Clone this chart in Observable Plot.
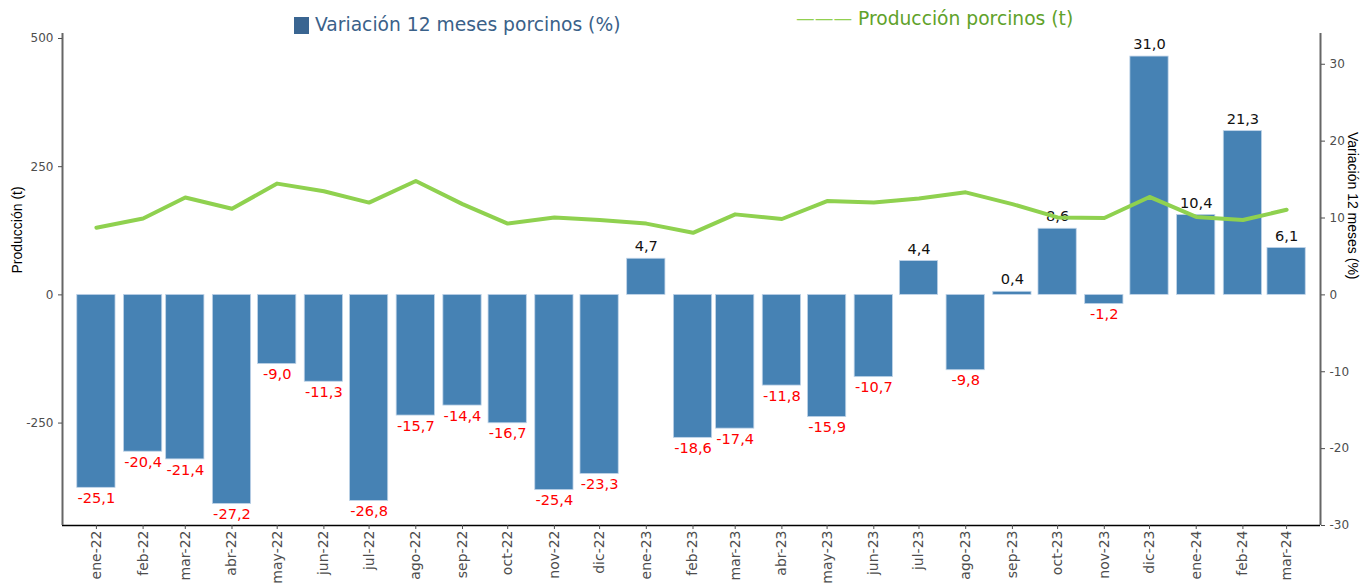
<!DOCTYPE html>
<html><head><meta charset="utf-8">
<script src="https://cdn.jsdelivr.net/npm/d3@7"></script>
<script src="https://cdn.jsdelivr.net/npm/@observablehq/plot@0.6"></script>
<style>
body{margin:0;background:#fff;}
#wrap{position:relative;width:1360px;height:584px;overflow:hidden;}
.leg{position:absolute;font-family:"DejaVu Sans";font-size:18.7px;line-height:18.7px;white-space:nowrap;}
</style></head><body>
<div id="wrap">
  <div style="position:absolute;left:294px;top:17px;width:15px;height:17px;background:#3a6591"></div>
  <div class="leg" style="left:315px;top:16px;color:#3a6189">Variación 12 meses porcinos (%)</div>
  <div class="leg" style="left:796px;top:9.5px;color:#5fa22a"><span style="color:#92d050">———</span> Producción porcinos (t)</div>
  <div id="chart"></div>
</div>
<script>
const monthLabels = ["ene-22","feb-22","mar-22","abr-22","may-22","jun-22","jul-22","ago-22","sep-22","oct-22","nov-22","dic-22",
  "ene-23","feb-23","mar-23","abr-23","may-23","jun-23","jul-23","ago-23","sep-23","oct-23","nov-23","dic-23",
  "ene-24","feb-24","mar-24"];
const monthDates = ["2022-01-01","2022-02-01","2022-03-01","2022-04-01","2022-05-01","2022-06-01","2022-07-01","2022-08-01","2022-09-01","2022-10-01","2022-11-01","2022-12-01",
  "2023-01-01","2023-02-01","2023-03-01","2023-04-01","2023-05-01","2023-06-01","2023-07-01","2023-08-01","2023-09-01","2023-10-01","2023-11-01","2023-12-01",
  "2024-01-01","2024-02-01","2024-03-01"];
const variacion = [-25.1,-20.4,-21.4,-27.2,-9.0,-11.3,-26.8,-15.7,-14.4,-16.7,-25.4,-23.3,
  4.7,-18.6,-17.4,-11.8,-15.9,-10.7,4.4,-9.8,0.4,8.6,-1.2,31.0,
  10.4,21.3,6.1];
const produccion = [131,149,190,168,217,202,180,222,177,139,151,146,
  139,121,157,148,183,180,188,200,177,151,150,191,
  152,146,166];
const leftTicks = [-250,0,250,500];
const rightTicks = [-30,-20,-10,0,10,20,30];

const k = 0.0667; // t -> % axis ratio (dual axis)
const DAY = 864e5;
const data = monthDates.map((d,i)=>({date:new Date(d+"T00:00:00Z"), label:monthLabels[i], v:variacion[i], p:produccion[i]}));
const labelMap = new Map(data.map(d=>[+d.date, d.label]));
const fmt = v => v.toFixed(1).replace(".", ",");
const half = 12.7*DAY;
const xdom = [new Date(+data[0].date - 22.5*DAY), new Date(+data[data.length-1].date + 22.5*DAY)];

const chart = Plot.plot({
  width:1360, height:584,
  marginLeft:62, marginRight:40, marginTop:33, marginBottom:59,
  style:{fontFamily:"DejaVu Sans", background:"transparent"},
  x:{type:"utc", domain:xdom},
  y:{domain:[-30,34]},
  marks:[
    Plot.rectY(data,{x1:d=>new Date(+d.date-half), x2:d=>new Date(+d.date+half), y1:0, y2:"v", fill:"#4682b4", stroke:"#c0d4e8", strokeWidth:0.8}),
    Plot.text(data.filter(d=>d.v>=0),{x:"date", y:"v", text:d=>fmt(d.v), dy:-12, fill:"#111", fontSize:14.6}),
    Plot.text(data.filter(d=>d.v<0),{x:"date", y:"v", text:d=>fmt(d.v), dy:10.5, fill:"red", fontSize:14.6}),
    Plot.lineY(data,{x:"date", y:d=>d.p*k, stroke:"#8fd14f", strokeWidth:4}),
    Plot.ruleY([-30],{stroke:"black", strokeWidth:1.5}),
    Plot.ruleX([xdom[0]],{stroke:"#666", strokeWidth:2}),
    Plot.ruleX([xdom[1]],{stroke:"#666", strokeWidth:2}),
    Plot.axisX(data.map(d=>d.date),{tickFormat:d=>labelMap.get(+d), tickRotate:-90, fontSize:14, tickSize:4, tickPadding:1, color:"#4d4d4d", label:null}),
    Plot.axisY(leftTicks.map(t=>t*k),{anchor:"left", tickFormat:d=>String(Math.round(d/k)), tickSize:4, fontSize:12, color:"#4d4d4d", label:null}),
    Plot.axisY(rightTicks,{anchor:"right", tickFormat:d=>String(d), tickSize:4, fontSize:12, color:"#4d4d4d", label:null}),
    Plot.text(["Producción (t)"],{frameAnchor:"left", dx:-45, dy:-6, rotate:-90, fontSize:14, fontFamily:"Liberation Sans", fill:"black"}),
    Plot.text(["Variación 12 meses (%)"],{frameAnchor:"right", dx:32, rotate:90, fontSize:14, fontFamily:"Liberation Sans", fill:"black"})
  ]
});
document.getElementById("chart").appendChild(chart);
</script>
</body></html>
